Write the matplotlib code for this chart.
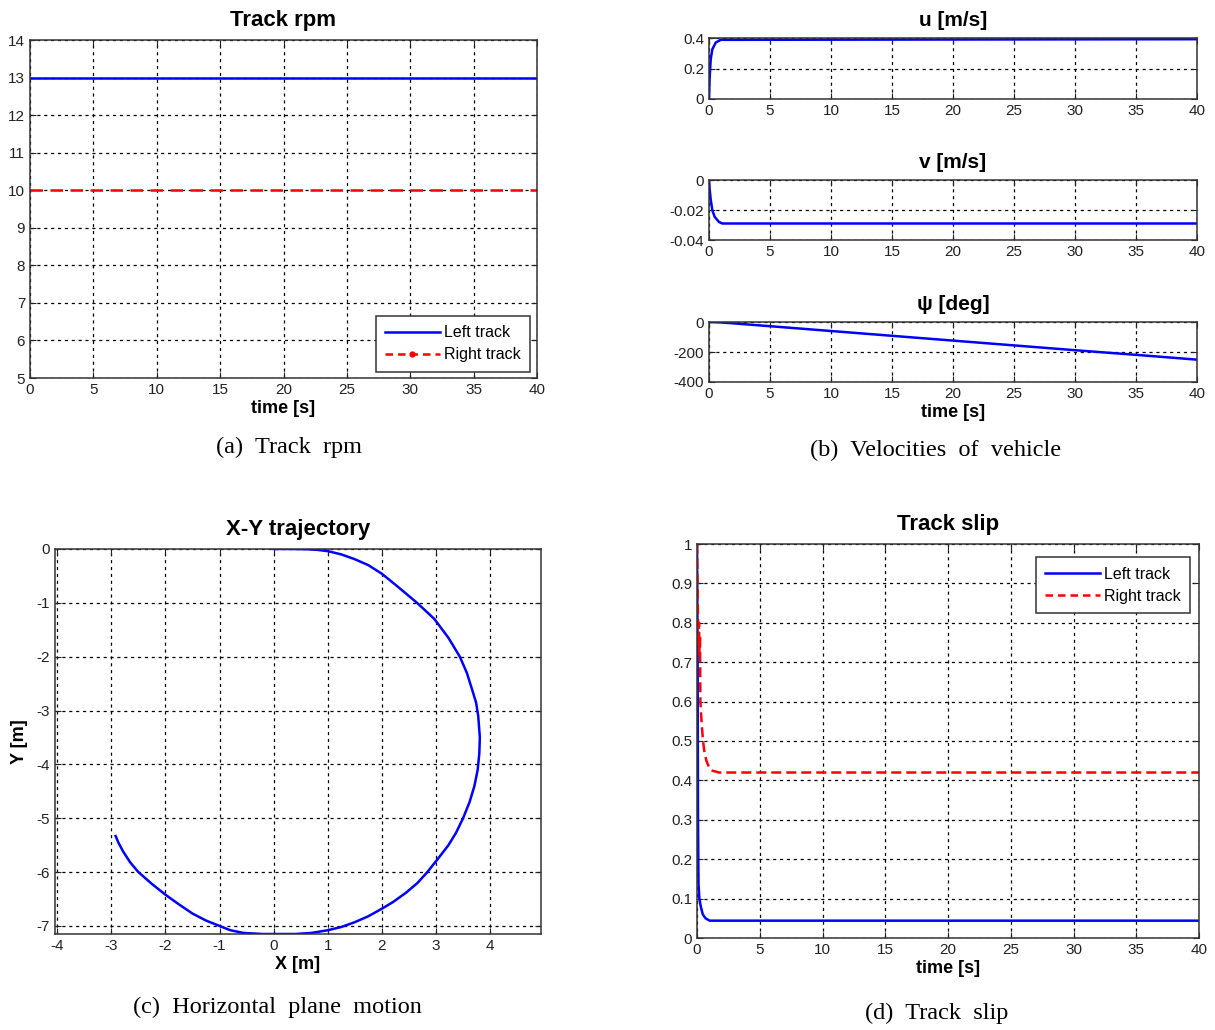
import matplotlib
matplotlib.use("Agg")
import matplotlib.pyplot as plt
from matplotlib.lines import Line2D

plt.rcParams['font.family'] = ['Liberation Sans', 'DejaVu Sans']
plt.rcParams['axes.unicode_minus'] = False

# ---------------- data ----------------
# (a) track rpm
rpm_t = [0, 40]
rpm_left = [13.0, 13.0]
rpm_right = [10.0, 10.0]

# (b) velocities
u_t = [0, 0.05, 0.14, 0.27, 0.55, 0.96, 40]
u_val = [0, 0.136, 0.26, 0.325, 0.37, 0.388, 0.392]
v_t = [0, 0.05, 0.14, 0.27, 0.46, 0.82, 1.1, 40]
v_val = [0, -0.006, -0.013, -0.02, -0.0245, -0.028, -0.029, -0.029]
psi_t = [0, 1, 2, 5, 10, 15, 20, 25, 30, 35, 40]
psi_val = [0, -3, -9, -28, -60, -92, -124, -156, -188, -219, -251]

# (c) X-Y trajectory
traj_x = [0, 0.3, 0.6, 0.8, 1.0, 1.25, 1.5, 1.75, 2.0, 2.27, 2.65, 2.97, 3.23, 3.44,
          3.57, 3.67, 3.74, 3.78, 3.81, 3.80, 3.77, 3.71, 3.62, 3.50, 3.37, 3.23,
          3.03, 2.84, 2.66, 2.45, 2.2, 2.0, 1.75, 1.5, 1.25, 1.0, 0.7, 0.4, 0.1,
          -0.2, -0.56, -0.8, -1.0, -1.25, -1.5, -1.75, -2.0, -2.25, -2.5, -2.65,
          -2.78, -2.87, -2.92]
traj_y = [0, 0, -0.005, -0.015, -0.04, -0.1, -0.19, -0.3, -0.46, -0.68, -1.0, -1.3,
          -1.65, -2.0, -2.3, -2.62, -2.85, -3.1, -3.5, -3.8, -4.1, -4.4, -4.7, -5.0,
          -5.27, -5.5, -5.76, -6.0, -6.2, -6.38, -6.56, -6.68, -6.82, -6.93, -7.02,
          -7.08, -7.13, -7.15, -7.15, -7.15, -7.13, -7.08, -7.0, -6.9, -6.77, -6.6,
          -6.42, -6.22, -6.0, -5.82, -5.62, -5.45, -5.33]

# (d) track slip
slip_t_left = [0, 0.05, 0.08, 0.12, 0.19, 0.3, 0.46, 0.68, 1.0, 40]
slip_left = [1.0, 0.7, 0.3, 0.138, 0.1, 0.08, 0.06, 0.05, 0.044, 0.044]
slip_t_right = [0, 0.04, 0.08, 0.12, 0.16, 0.2, 0.24, 0.27, 0.36, 0.48, 0.6, 0.75,
                1.0, 1.2, 1.75, 40]
slip_right = [1.0, 0.9, 0.81, 0.74, 0.8, 0.72, 0.77, 0.6, 0.55, 0.5, 0.47, 0.45,
              0.43, 0.425, 0.42, 0.42]

time_ticks = [0, 5, 10, 15, 20, 25, 30, 35, 40]
captions = ["(a)  Track  rpm", "(b)  Velocities  of  vehicle",
            "(c)  Horizontal  plane  motion", "(d)  Track  slip"]

BLUE = '#0000ff'
RED = '#ff0000'
W, H = 1215, 1030


def box(l, t, r, b):
    # pixel box -> figure fraction
    return [l / W, 1 - b / H, (r - l) / W, (b - t) / H]


def style(ax):
    ax.grid(True, color='black', linestyle=(0, (2.5, 3)), linewidth=0.9)
    ax.tick_params(direction='in', top=True, right=True, labelsize=11,
                   length=4, colors='#222222', labelcolor='#222222')
    for s in ax.spines.values():
        s.set_linewidth(1.1)
        s.set_color('#333333')


def legend_box(ax, handles, labels, anchor, loc):
    leg = ax.legend(handles, labels, loc=loc, bbox_to_anchor=anchor, borderaxespad=0,
                    fontsize=11.5, fancybox=False, edgecolor='#333333', framealpha=1,
                    handlelength=3.4, handletextpad=0.25, borderpad=0.6,
                    labelspacing=0.45)
    leg.get_frame().set_linewidth(1.1)


fig = plt.figure(figsize=(12.15, 10.3), dpi=100)

# ---------------- (a) ----------------
ax = fig.add_axes(box(30, 40, 537, 378))
ax.plot(rpm_t, rpm_left, color=BLUE, lw=1.8)
ax.plot(rpm_t, rpm_right, color=RED, lw=1.8, ls=(0, (5, 3)))
ax.set_xlim(0, 40)
ax.set_ylim(5, 14)
ax.set_xticks(time_ticks)
ax.set_yticks(range(5, 15))
style(ax)
ax.set_title('Track rpm', fontsize=16, fontweight='bold', pad=10)
ax.set_xlabel('time [s]', fontsize=13, fontweight='bold', labelpad=2)
handles = [Line2D([], [], color=BLUE, lw=1.8),
           Line2D([], [], color=RED, lw=1.8, ls=(0, (3, 2)), marker='.', markersize=7)]
legend_box(ax, handles, ['Left track', 'Right track'], (0.986, 0.018), 'lower right')

# ---------------- (b) ----------------
ax = fig.add_axes(box(709, 38, 1197, 99))
ax.plot(u_t, u_val, color=BLUE, lw=1.8)
ax.set_xlim(0, 40)
ax.set_ylim(0, 0.4)
ax.set_xticks(time_ticks)
ax.set_yticks([0, 0.2, 0.4])
ax.set_yticklabels(['0', '0.2', '0.4'])
style(ax)
ax.set_title('u [m/s]', fontsize=15, fontweight='bold', pad=9)

ax = fig.add_axes(box(709, 180, 1197, 240))
ax.plot(v_t, v_val, color=BLUE, lw=1.8)
ax.set_xlim(0, 40)
ax.set_ylim(-0.04, 0)
ax.set_xticks(time_ticks)
ax.set_yticks([-0.04, -0.02, 0])
ax.set_yticklabels(['-0.04', '-0.02', '0'])
style(ax)
ax.set_title('v [m/s]', fontsize=15, fontweight='bold', pad=9)

ax = fig.add_axes(box(709, 322, 1197, 382))
ax.plot(psi_t, psi_val, color=BLUE, lw=1.8)
ax.set_xlim(0, 40)
ax.set_ylim(-400, 0)
ax.set_xticks(time_ticks)
ax.set_yticks([-400, -200, 0])
style(ax)
ax.set_title('ψ [deg]', fontsize=15, fontweight='bold', pad=9)
ax.set_xlabel('time [s]', fontsize=13, fontweight='bold', labelpad=2)

# ---------------- (c) ----------------
ax = fig.add_axes(box(55, 549, 541, 934))
ax.plot(traj_x, traj_y, color=BLUE, lw=1.8)
ax.set_xlim(-4.04, 4.94)
ax.set_ylim(-7.15, 0)
ax.set_xticks(range(-4, 5))
ax.set_yticks(range(-7, 1))
style(ax)
ax.set_title('X-Y trajectory', fontsize=16, fontweight='bold', pad=10)
ax.set_xlabel('X [m]', fontsize=13, fontweight='bold', labelpad=2)
ax.set_ylabel('Y [m]', fontsize=13, fontweight='bold', labelpad=6)

# ---------------- (d) ----------------
ax = fig.add_axes(box(697, 544, 1199, 938))
ax.plot(slip_t_left, slip_left, color=BLUE, lw=1.8)
ax.plot(slip_t_right, slip_right, color=RED, lw=1.8, ls=(0, (4, 2)))
ax.set_xlim(0, 40)
ax.set_ylim(0, 1)
ax.set_xticks(time_ticks)
yt = [i / 10 for i in range(11)]
ax.set_yticks(yt)
ax.set_yticklabels(['0'] + ['%.1f' % v for v in yt[1:-1]] + ['1'])
style(ax)
ax.set_title('Track slip', fontsize=16, fontweight='bold', pad=10)
ax.set_xlabel('time [s]', fontsize=13, fontweight='bold', labelpad=2)
handles = [Line2D([], [], color=BLUE, lw=1.8),
           Line2D([], [], color=RED, lw=1.8, ls=(0, (3, 2)))]
legend_box(ax, handles, ['Left track', 'Right track'], (0.982, 0.967), 'upper right')

# ---------------- captions ----------------
cap_pos = [(289, 447), (936, 450), (277, 1007), (937, 1013)]
for (px, py), txt in zip(cap_pos, captions):
    fig.text(px / W, 1 - py / H, txt, ha='center', va='center', fontsize=17.5,
             family='Liberation Serif')

fig.savefig('out.png', dpi=100)
